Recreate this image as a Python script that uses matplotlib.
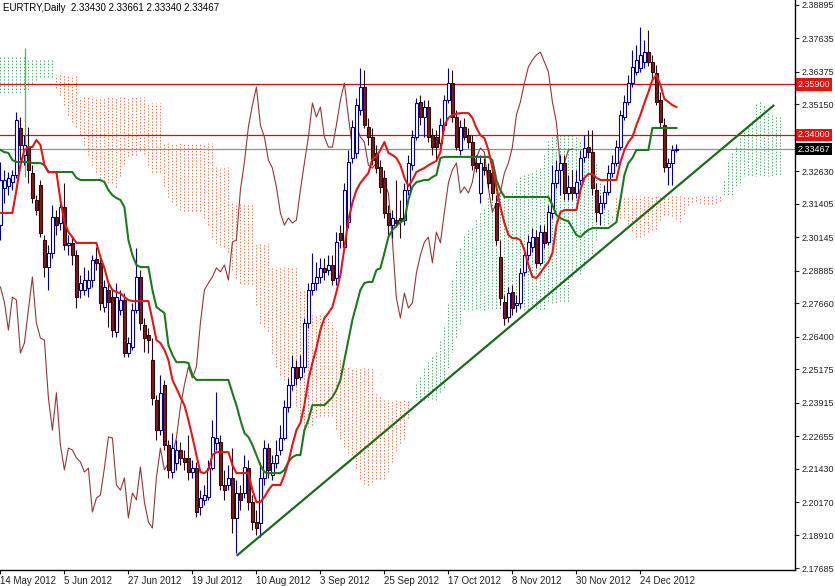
import numpy as np
import matplotlib.pyplot as plt
from matplotlib.collections import LineCollection
from matplotlib.transforms import blended_transform_factory

plt.rcParams['font.family'] = ['Liberation Sans', 'DejaVu Sans']

# EURTRY daily bars, 14 May 2012 .. 4 Jan 2013
opens = np.array([
    2.3060, 2.3200, 2.3207, 2.3222, 2.3249, 2.3426, 2.3324, 2.3354, 2.3256, 2.3155,
    2.3211, 2.3004, 2.2902, 2.2955, 2.3090, 2.3068, 2.3128, 2.2985, 2.2993, 2.2947,
    2.2816, 2.2816, 2.2823, 2.2853, 2.2933, 2.2918, 2.2752, 2.2816, 2.2789, 2.2657,
    2.2740, 2.2778, 2.2578, 2.2601, 2.2740, 2.2865, 2.2684, 2.2646, 2.2552, 2.2401,
    2.2288, 2.2458, 2.2232, 2.2130, 2.2164, 2.2213, 2.2183, 2.2183, 2.2130, 2.2145,
    2.1998, 2.2025, 2.2036, 2.2145, 2.2239, 2.2243, 2.2081, 2.2081, 2.2108, 2.1957,
    2.2051, 2.2051, 2.2145, 2.2017, 2.1942, 2.1938, 2.2108, 2.2220, 2.2119, 2.2164,
    2.2213, 2.2258, 2.2375, 2.2458, 2.2526, 2.2488, 2.2526, 2.2691, 2.2816, 2.2842,
    2.2865, 2.2899, 2.2891, 2.2910, 2.2861, 2.3030, 2.2978, 2.3071, 2.3313, 2.3332,
    2.3494, 2.3580, 2.3430, 2.3392, 2.3332, 2.3279, 2.3238, 2.3106, 2.3060, 2.3079,
    2.3087, 2.3079, 2.3192, 2.3286, 2.3392, 2.3524, 2.3467, 2.3505, 2.3399, 2.3392,
    2.3369, 2.3437, 2.3531, 2.3595, 2.3467, 2.3343, 2.3430, 2.3399, 2.3373, 2.3294,
    2.3181, 2.3279, 2.3268, 2.3256, 2.3144, 2.2940, 2.2770, 2.2714, 2.2808, 2.2759,
    2.2767, 2.2884, 2.2947, 2.2978, 2.3015, 2.2918, 2.3034, 2.2996, 2.3106, 2.3219,
    2.3268, 2.3294, 2.3181, 2.3204, 2.3181, 2.3230, 2.3317, 2.3354, 2.3335, 2.3192,
    2.3106, 2.3144, 2.3185, 2.3256, 2.3294, 2.3354, 2.3467, 2.3524, 2.3595, 2.3637,
    2.3652, 2.3674, 2.3712, 2.3674, 2.3633, 2.3531, 2.3437, 2.3279, 2.3294, 2.33430])
highs = np.array([
    2.3297, 2.3268, 2.3260, 2.3268, 2.3486, 2.3467, 2.3399, 2.3429, 2.3286, 2.3173,
    2.3230, 2.3023, 2.2985, 2.3136, 2.3117, 2.3155, 2.3219, 2.3023, 2.3011, 2.2966,
    2.2872, 2.2902, 2.2891, 2.2947, 2.2978, 2.2936, 2.2853, 2.2842, 2.2816, 2.2842,
    2.2816, 2.2804, 2.2639, 2.2767, 2.2974, 2.2891, 2.2710, 2.2673, 2.2635, 2.2420,
    2.2495, 2.2477, 2.2251, 2.2277, 2.2251, 2.2243, 2.2213, 2.2269, 2.2175, 2.2168,
    2.2062, 2.2081, 2.2175, 2.2326, 2.2431, 2.2269, 2.2138, 2.2156, 2.2220, 2.2100,
    2.2081, 2.2194, 2.2175, 2.2043, 2.1987, 2.2168, 2.2251, 2.2239, 2.2194, 2.2251,
    2.2307, 2.2401, 2.2484, 2.2571, 2.2552, 2.2571, 2.2710, 2.2842, 2.2955, 2.2921,
    2.2936, 2.2936, 2.2947, 2.2947, 2.3034, 2.3060, 2.3219, 2.3343, 2.3456, 2.3539,
    2.3652, 2.3644, 2.3464, 2.3426, 2.3362, 2.3305, 2.3268, 2.3136, 2.3117, 2.3230,
    2.3155, 2.3219, 2.3324, 2.3418, 2.3539, 2.3550, 2.3531, 2.3531, 2.3426, 2.3418,
    2.3464, 2.3550, 2.3652, 2.3644, 2.3494, 2.3456, 2.3464, 2.3426, 2.3399, 2.3324,
    2.3324, 2.3313, 2.3294, 2.3286, 2.3173, 2.3004, 2.2797, 2.2827, 2.2834, 2.2797,
    2.2899, 2.2974, 2.3023, 2.3049, 2.3042, 2.3060, 2.3060, 2.3136, 2.3286, 2.3305,
    2.3324, 2.3324, 2.3249, 2.3268, 2.3268, 2.3343, 2.3399, 2.3418, 2.3418, 2.3219,
    2.3173, 2.3211, 2.3286, 2.3324, 2.3381, 2.3494, 2.3550, 2.3625, 2.3720, 2.3738,
    2.3806, 2.3757, 2.3795, 2.3701, 2.3663, 2.3561, 2.3464, 2.3313, 2.3362, 2.33661])
lows = np.array([
    2.3004, 2.3144, 2.3173, 2.3192, 2.3238, 2.3305, 2.3286, 2.3219, 2.3144, 2.3098,
    2.3015, 2.2865, 2.2816, 2.2936, 2.3023, 2.3042, 2.2966, 2.2947, 2.2910, 2.2748,
    2.2785, 2.2797, 2.2789, 2.2827, 2.2891, 2.2740, 2.2733, 2.2676, 2.2639, 2.2639,
    2.2721, 2.2563, 2.2563, 2.2590, 2.2729, 2.2665, 2.2582, 2.2578, 2.2382, 2.2251,
    2.2269, 2.2213, 2.2108, 2.2108, 2.2138, 2.2156, 2.2138, 2.2100, 2.2108, 2.1960,
    2.1968, 2.2006, 2.2025, 2.2138, 2.2213, 2.2062, 2.2025, 2.2062, 2.1900, 2.1825,
    2.1987, 2.2032, 2.1987, 2.1912, 2.1893, 2.1885, 2.2081, 2.2108, 2.2100, 2.2145,
    2.2194, 2.2251, 2.2356, 2.2439, 2.2458, 2.2477, 2.2507, 2.2673, 2.2797, 2.2816,
    2.2842, 2.2853, 2.2872, 2.2834, 2.2834, 2.2974, 2.2966, 2.3049, 2.3294, 2.3313,
    2.3475, 2.3426, 2.3362, 2.3286, 2.3256, 2.3181, 2.3087, 2.3023, 2.3011, 2.3053,
    2.3011, 2.3060, 2.3173, 2.3268, 2.3381, 2.3437, 2.3392, 2.3373, 2.3324, 2.3305,
    2.3343, 2.3418, 2.3520, 2.3448, 2.3343, 2.3324, 2.3381, 2.3351, 2.3268, 2.3260,
    2.3144, 2.3249, 2.3200, 2.3155, 2.2985, 2.2759, 2.2684, 2.2695, 2.2721, 2.2733,
    2.2748, 2.2869, 2.2929, 2.2959, 2.2899, 2.2910, 2.2974, 2.2985, 2.3087, 2.3200,
    2.3173, 2.3155, 2.3155, 2.3155, 2.3162, 2.3211, 2.3298, 2.3313, 2.3173, 2.3071,
    2.3060, 2.3125, 2.3173, 2.3241, 2.3283, 2.3343, 2.3456, 2.3512, 2.3580, 2.3625,
    2.3637, 2.3652, 2.3659, 2.3614, 2.3512, 2.3429, 2.3260, 2.3211, 2.3211, 2.33340])
closes = np.array([
    2.3230, 2.3230, 2.3238, 2.3249, 2.3456, 2.3362, 2.3362, 2.3268, 2.3162, 2.3117,
    2.3030, 2.2902, 2.2955, 2.3090, 2.3060, 2.3128, 2.2985, 2.2993, 2.2947, 2.2789,
    2.2842, 2.2853, 2.2853, 2.2929, 2.2918, 2.2767, 2.2827, 2.2770, 2.2665, 2.2789,
    2.2778, 2.2578, 2.2616, 2.2740, 2.2865, 2.2691, 2.2635, 2.2627, 2.2409, 2.2288,
    2.2428, 2.2232, 2.2138, 2.2220, 2.2213, 2.2183, 2.2168, 2.2130, 2.2145, 2.1979,
    2.2032, 2.2043, 2.2145, 2.2262, 2.2258, 2.2081, 2.2062, 2.2108, 2.1957, 2.2051,
    2.2025, 2.2149, 2.2017, 2.1942, 2.1919, 2.2108, 2.2220, 2.2138, 2.2164, 2.2194,
    2.2258, 2.2375, 2.2458, 2.2526, 2.2484, 2.2526, 2.2691, 2.2816, 2.2842, 2.2865,
    2.2899, 2.2884, 2.2910, 2.2853, 2.2996, 2.3004, 2.3192, 2.3297, 2.3430, 2.3512,
    2.3580, 2.3437, 2.3392, 2.3305, 2.3275, 2.3204, 2.3106, 2.3060, 2.3087, 2.3068,
    2.3079, 2.3192, 2.3294, 2.3392, 2.3520, 2.3467, 2.3505, 2.3392, 2.3354, 2.3354,
    2.3437, 2.3531, 2.3595, 2.3467, 2.3354, 2.3430, 2.3392, 2.3373, 2.3286, 2.3275,
    2.3294, 2.3268, 2.3219, 2.3181, 2.3004, 2.2785, 2.2710, 2.2804, 2.2748, 2.2767,
    2.2880, 2.2947, 2.2996, 2.3015, 2.2918, 2.3034, 2.2993, 2.3109, 2.3219, 2.3268,
    2.3294, 2.3181, 2.3204, 2.3181, 2.3222, 2.3313, 2.3351, 2.3335, 2.3200, 2.3109,
    2.3144, 2.3185, 2.3256, 2.3294, 2.3354, 2.3475, 2.3524, 2.3595, 2.3656, 2.3682,
    2.3701, 2.3712, 2.3674, 2.3637, 2.3524, 2.3448, 2.3279, 2.3294, 2.3343, 2.33467])

# Ichimoku tenkan-sen / kijun-sen as drawn on the chart
tenkan = np.array([
    2.3106, 2.3106, 2.3106, 2.3106, 2.3192, 2.3286, 2.3343, 2.3354, 2.3354, 2.3381,
    2.3362, 2.3286, 2.3260, 2.3260, 2.3260, 2.3155, 2.3071, 2.3034, 2.3015, 2.2993,
    2.2993, 2.2993, 2.2993, 2.2993, 2.2993, 2.2940, 2.2898, 2.2842, 2.2816, 2.2808,
    2.2804, 2.2789, 2.2778, 2.2774, 2.2774, 2.2774, 2.2774, 2.2774, 2.2703, 2.2627,
    2.2616, 2.2590, 2.2552, 2.2477, 2.2446, 2.2412, 2.2382, 2.2326, 2.2262, 2.2194,
    2.2130, 2.2126, 2.2138, 2.2194, 2.2205, 2.2205, 2.2205, 2.2205, 2.2156, 2.2126,
    2.2126, 2.2126, 2.2126, 2.2062, 2.2017, 2.2017, 2.2036, 2.2062, 2.2081, 2.2081,
    2.2081, 2.2119, 2.2168, 2.2232, 2.2288, 2.2315, 2.2382, 2.2477, 2.2541, 2.2597,
    2.2665, 2.2710, 2.2729, 2.2752, 2.2808, 2.2872, 2.2974, 2.3079, 2.3144, 2.3192,
    2.3219, 2.3238, 2.3256, 2.3309, 2.3320, 2.3343, 2.3373, 2.3332, 2.3324, 2.3313,
    2.3286, 2.3238, 2.3207, 2.3230, 2.3260, 2.3268, 2.3275, 2.3286, 2.3294, 2.3302,
    2.3335, 2.3437, 2.3464, 2.3475, 2.3479, 2.3482, 2.3482, 2.3482, 2.3464, 2.3426,
    2.3399, 2.3388, 2.3343, 2.3275, 2.3204, 2.3128, 2.3068, 2.3023, 2.3011, 2.3011,
    2.3004, 2.2966, 2.2910, 2.2865, 2.2861, 2.2880, 2.2902, 2.2921, 2.2955, 2.3060,
    2.3109, 2.3117, 2.3117, 2.3117, 2.3117, 2.3192, 2.3238, 2.3253, 2.3253, 2.3238,
    2.3230, 2.3230, 2.3230, 2.3230, 2.3230, 2.3298, 2.3343, 2.3373, 2.3392, 2.3437,
    2.3475, 2.3520, 2.3561, 2.3607, 2.3625, 2.3588, 2.3535, 2.3524, 2.3512, 2.3505])
kijun = np.array([
    2.3343, 2.3335, 2.3332, 2.3305, 2.3298, 2.3298, 2.3298, 2.3298, 2.3294, 2.3294,
    2.3294, 2.3286, 2.3260, 2.3260, 2.3260, 2.3260, 2.3260, 2.3260, 2.3260, 2.3238,
    2.3230, 2.3230, 2.3230, 2.3230, 2.3230, 2.3230, 2.3222, 2.3192, 2.3173, 2.3162,
    2.3155, 2.3128, 2.3004, 2.2947, 2.2910, 2.2902, 2.2902, 2.2902, 2.2816, 2.2752,
    2.2740, 2.2729, 2.2608, 2.2571, 2.2544, 2.2544, 2.2544, 2.2541, 2.2495, 2.2477,
    2.2477, 2.2477, 2.2477, 2.2477, 2.2477, 2.2477, 2.2477, 2.2477, 2.2428, 2.2382,
    2.2326, 2.2277, 2.2262, 2.2232, 2.2194, 2.2156, 2.2130, 2.2126, 2.2126, 2.2126,
    2.2126, 2.2138, 2.2168, 2.2186, 2.2194, 2.2194, 2.2288, 2.2326, 2.2382, 2.2382,
    2.2382, 2.2382, 2.2397, 2.2412, 2.2439, 2.2477, 2.2552, 2.2627, 2.2703, 2.2759,
    2.2816, 2.2842, 2.2846, 2.2846, 2.2891, 2.2898, 2.2955, 2.3015, 2.3042, 2.3057,
    2.3071, 2.3079, 2.3155, 2.3204, 2.3222, 2.3226, 2.3230, 2.3230, 2.3241, 2.3249,
    2.3313, 2.3317, 2.3317, 2.3317, 2.3317, 2.3317, 2.3317, 2.3317, 2.3317, 2.3317,
    2.3317, 2.3317, 2.3317, 2.3305, 2.3230, 2.3192, 2.3166, 2.3166, 2.3166, 2.3166,
    2.3166, 2.3166, 2.3166, 2.3166, 2.3166, 2.3166, 2.3166, 2.3166, 2.3136, 2.3098,
    2.3087, 2.3079, 2.3075, 2.3049, 2.3023, 2.3015, 2.3030, 2.3042, 2.3049, 2.3049,
    2.3049, 2.3049, 2.3049, 2.3060, 2.3071, 2.3155, 2.3249, 2.3294, 2.3313, 2.3343,
    2.3343, 2.3343, 2.3343, 2.3426, 2.3426, 2.3426, 2.3426, 2.3426, 2.3426, 2.3426])

# cloud values that fall before the first visible bar's history
span_a_head = [
    2.3693, 2.3693, 2.3693, 2.3693, 2.3693, 2.3693, 2.3693, 2.3682, 2.3682, 2.3682,
    2.3682, 2.3682, 2.3682, 2.3682, 2.3577, 2.3550, 2.3512, 2.3475, 2.3448, 2.3430,
    2.3399, 2.3362, 2.3324, 2.3286, 2.3260, 2.3238]
span_b_head = [
    2.3558, 2.3558, 2.3558, 2.3558, 2.3558, 2.3558, 2.3569, 2.3569, 2.3588, 2.3607,
    2.3618, 2.3618, 2.3618, 2.3618, 2.3625, 2.3625, 2.3625, 2.3625, 2.3625, 2.3625,
    2.3543, 2.3543, 2.3543, 2.3543, 2.3543, 2.3543, 2.3543, 2.3543, 2.3543, 2.3543,
    2.3543, 2.3543, 2.3543, 2.3543, 2.3543, 2.3543, 2.3543, 2.3520, 2.3520, 2.3520,
    2.3520, 2.3369, 2.3369, 2.3369, 2.3369, 2.3369, 2.3369, 2.3369, 2.3369, 2.3369,
    2.3369, 2.3369, 2.3369, 2.3369, 2.3279, 2.3279, 2.3279, 2.3279, 2.3144, 2.3144,
    2.3144, 2.3144, 2.3144, 2.3144, 2.2993, 2.2993, 2.2993, 2.2993, 2.2902, 2.2902,
    2.2902, 2.2902, 2.2902, 2.2902, 2.2902, 2.2816, 2.2816]

date_labels = ['14 May 2012', '5 Jun 2012', '27 Jun 2012', '19 Jul 2012', '10 Aug 2012',
               '3 Sep 2012', '25 Sep 2012', '17 Oct 2012', '8 Nov 2012', '30 Nov 2012',
               '24 Dec 2012']
price_ticks = [2.38895, 2.37635, 2.36375, 2.35150, 2.32630, 2.31405, 2.30145, 2.28885,
               2.27660, 2.26400, 2.25175, 2.23915, 2.22655, 2.21430, 2.20170, 2.18910,
               2.17685]
level_lines = [2.3590, 2.3400]
bid = 2.33467
trend_bars = [59.25, 193.25]
trend_prices = [2.1817, 2.3510]
marker_bar = 6.25
marker_range = [2.3241, 2.3728]

n = len(closes)
bars = np.arange(n)
shift = 26

span_a = np.concatenate([span_a_head, (tenkan + kijun) / 2])
span_b_calc = [(highs[k - 51:k + 1].max() + lows[k - 51:k + 1].min()) / 2 for k in range(51, n)]
span_b = np.concatenate([span_b_head, span_b_calc])

fig = plt.figure(figsize=(8.35, 5.86), dpi=100)
ax = fig.add_axes([0, 16 / 586, 795 / 835, 570 / 586])
ax.set_xlim(-0.1, 198.65)
ax.set_ylim(2.1761, 2.3908)

# kumo as dotted columns
segs = [[(j, a), (j, b)] for j, (a, b) in enumerate(zip(span_a, span_b))]
cols = ['#4aa860' if a >= b else '#e8704a' for a, b in zip(span_a, span_b)]
ax.add_collection(LineCollection(segs, colors=cols, linewidths=0.7,
                                 linestyles=[(0, (1.4, 1.8))], zorder=1))

for lv in level_lines:
    ax.axhline(lv, color='#d01010', lw=0.9, zorder=2)
ax.axhline(bid, color='#909090', lw=0.9, zorder=2)
ax.vlines(marker_bar, marker_range[0], marker_range[1], color='#40c040', lw=0.9, zorder=2)

# chikou span
ax.plot(bars[shift:] - shift, closes[shift:], color='#8b3a3a', lw=0.8, zorder=3)

up = closes >= opens
dn = ~up
ax.vlines(bars[up], lows[up], highs[up], color='#000080', lw=0.8, zorder=4)
ax.vlines(bars[dn], lows[dn], highs[dn], color='#2a0a0a', lw=0.8, zorder=4)
ax.bar(bars[up], closes[up] - opens[up], bottom=opens[up], width=0.72,
       facecolor='white', edgecolor='#000080', lw=0.8, zorder=5)
ax.bar(bars[dn], opens[dn] - closes[dn], bottom=closes[dn], width=0.72,
       facecolor='#7a1c1c', edgecolor='#2a0a0a', lw=0.8, zorder=5)

ax.plot(bars, kijun, color='#1c7a1c', lw=1.5, zorder=6)
ax.plot(bars, tenkan, color='#e01818', lw=1.5, zorder=7)
ax.plot(trend_bars, trend_prices, color='#1c6a1c', lw=1.6, zorder=8)

# axes styling like the terminal
for s in ['top', 'left']:
    ax.spines[s].set_visible(False)
for s in ['right', 'bottom']:
    ax.spines[s].set_color('black')
    ax.spines[s].set_linewidth(1)

ax.yaxis.tick_right()
ax.set_yticks(price_ticks)
ax.set_yticklabels(['%.5f' % v for v in price_ticks])
ax.tick_params(axis='y', length=3, pad=1.5, labelsize=6.5, colors='#202020')
ax.set_xticks(np.arange(len(date_labels)) * 16)
ax.set_xticklabels(date_labels, ha='left')
ax.tick_params(axis='x', length=3, pad=1, labelsize=7, colors='#202020')

tr = blended_transform_factory(ax.transAxes, ax.transData)
boxes = [(level_lines[0], '#e81010'), (level_lines[1], '#e81010'), (bid, 'black')]
for val, fc in boxes:
    ax.text(1.003, val, '%.5f' % val, transform=tr, va='center', ha='left',
            fontsize=6.5, color='white', zorder=10,
            bbox=dict(boxstyle='square,pad=0.2', fc=fc, ec='none'))

fig.text(3 / 835, 1 - 8 / 586, 'EURTRY,Daily  2.33430 2.33661 2.33340 2.33467',
         fontsize=7, va='center', ha='left')

fig.savefig('out.png', dpi=100, facecolor='white')
